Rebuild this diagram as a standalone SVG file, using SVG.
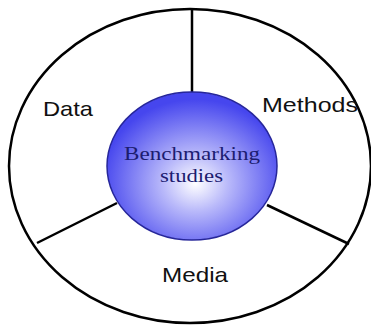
<svg xmlns="http://www.w3.org/2000/svg" width="371" height="327" viewBox="0 0 371 327">
<defs>
<radialGradient id="g" cx="0.52" cy="0.6" r="0.55" fx="0.52" fy="0.62">
<stop offset="0" stop-color="#ffffff"/>
<stop offset="0.35" stop-color="#b9b9fa"/>
<stop offset="1" stop-color="#4646ee"/>
</radialGradient>
<style>
.ln{stroke:#000;stroke-width:2.5;fill:none}
.lbl{font-family:"Liberation Sans",Arial,sans-serif;font-size:21px;fill:#111}
.ctr{font-family:"Liberation Serif","Times New Roman",serif;font-size:19px;fill:#1c1c70}
</style>
</defs>
<rect width="371" height="327" fill="#fff"/>
<g id="outer">
<ellipse cx="190" cy="166" rx="181" ry="157" class="ln"/>
</g>
<g id="connectors">
<line x1="192" y1="9" x2="192" y2="92" class="ln"/>
<line x1="117" y1="203" x2="37" y2="243" class="ln"/>
<line x1="267" y1="205" x2="349" y2="244" class="ln"/>
</g>
<g id="center">
<ellipse cx="192" cy="166" rx="85" ry="74" fill="url(#g)" stroke="#26269a" stroke-width="1.5"/>
<text class="ctr" x="124" y="160" textLength="136" lengthAdjust="spacingAndGlyphs">Benchmarking</text>
<text class="ctr" x="160" y="182" textLength="63" lengthAdjust="spacingAndGlyphs">studies</text>
</g>
<g id="data">
<text class="lbl" x="43" y="116" textLength="50" lengthAdjust="spacingAndGlyphs">Data</text>
</g>
<g id="methods">
<text class="lbl" x="262" y="112" textLength="96" lengthAdjust="spacingAndGlyphs">Methods</text>
</g>
<g id="media">
<text class="lbl" x="162" y="282" textLength="66" lengthAdjust="spacingAndGlyphs">Media</text>
</g>
</svg>
